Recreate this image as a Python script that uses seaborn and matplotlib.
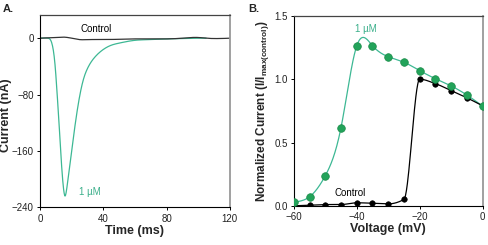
import numpy as np
import pandas as pd
import matplotlib
matplotlib.use("Agg")
import matplotlib.pyplot as plt
import seaborn as sns

# ---------------- data ----------------
# Panel A: current traces
time_drug = [0, 5, 6.5, 8, 9.5, 11, 12, 13, 14, 15, 15.8, 16.8, 18, 20, 22.5, 25,
             27.5, 30, 35, 40, 45, 50, 60, 70, 80, 90, 100, 105]
curr_drug = [0, 0, -2, -12, -38, -85, -120, -158, -192, -216, -224, -215, -195,
             -160, -118, -83, -58, -43, -26, -16, -10, -7, -3, -2, -1, -0.5, 0, 0]
time_ctrl = [0, 5, 10, 15, 20, 25, 30, 40, 50, 60, 70, 80, 90, 100, 105, 110, 120]
curr_ctrl = [0, 0.5, 1, 1.5, 0, -2, -2, -2, -1.5, -1, -1, -1, 0, 1, 0, -0.5, 0]

# Panel B: normalized I-V
voltage = [-60, -55, -50, -45, -40, -35, -30, -25, -20, -15, -10, -5, 0]
norm_drug = [0.029, 0.071, 0.237, 0.617, 1.263, 1.265, 1.178, 1.134, 1.068,
             1.004, 0.947, 0.875, 0.788]
norm_ctrl = [0.0, 0.005, 0.01, 0.01, 0.024, 0.02, 0.015, 0.05, 1.0,
             0.965, 0.91, 0.853, 0.79]

label_ctrl = "Control"
label_drug = "1 \u00b5M"

GREEN_LINE = "#3db894"
GREEN_MARK = "#22a35a"
GREEN_TEXT = "#3aaf8a"


def spline(x, y, n=400):
    """Natural cubic spline used only to render a smooth connecting line."""
    x = np.asarray(x, float); y = np.asarray(y, float)
    k = len(x); h = np.diff(x)
    A = np.zeros((k, k)); r = np.zeros(k)
    A[0, 0] = A[-1, -1] = 1
    for i in range(1, k - 1):
        A[i, i - 1] = h[i - 1]; A[i, i] = 2 * (h[i - 1] + h[i]); A[i, i + 1] = h[i]
        r[i] = 3 * ((y[i + 1] - y[i]) / h[i] - (y[i] - y[i - 1]) / h[i - 1])
    c = np.linalg.solve(A, r)
    b = (y[1:] - y[:-1]) / h - h * (2 * c[:-1] + c[1:]) / 3
    d = (c[1:] - c[:-1]) / (3 * h)
    xs = np.linspace(x[0], x[-1], n)
    idx = np.clip(np.searchsorted(x, xs) - 1, 0, k - 2)
    dx = xs - x[idx]
    ys = y[idx] + b[idx] * dx + c[idx] * dx ** 2 + d[idx] * dx ** 3
    return xs, ys


def pchip(x, y, n=400):
    """Monotone cubic (PCHIP) rendering of a connecting line."""
    x = np.asarray(x, float); y = np.asarray(y, float)
    h = np.diff(x); delta = np.diff(y) / h
    k = len(x); m = np.zeros(k)
    for i in range(1, k - 1):
        if delta[i - 1] * delta[i] > 0:
            w1 = 2 * h[i] + h[i - 1]; w2 = h[i] + 2 * h[i - 1]
            m[i] = (w1 + w2) / (w1 / delta[i - 1] + w2 / delta[i])
    m[0] = delta[0]; m[-1] = delta[-1]
    xs = np.linspace(x[0], x[-1], n)
    idx = np.clip(np.searchsorted(x, xs) - 1, 0, k - 2)
    t = (xs - x[idx]) / h[idx]
    h00 = 2 * t**3 - 3 * t**2 + 1; h10 = t**3 - 2 * t**2 + t
    h01 = -2 * t**3 + 3 * t**2; h11 = t**3 - t**2
    ys = (h00 * y[idx] + h10 * h[idx] * m[idx] + h01 * y[idx + 1]
          + h11 * h[idx] * m[idx + 1])
    return xs, ys


sns.set_theme(style="white")
plt.rcParams['font.family'] = ['Liberation Sans', 'DejaVu Sans']
plt.rcParams['mathtext.fontset'] = 'custom'
plt.rcParams['mathtext.rm'] = 'Liberation Sans'
plt.rcParams['mathtext.bf'] = 'Liberation Sans:bold'
plt.rcParams['mathtext.it'] = 'Liberation Sans:italic'

fig = plt.figure(figsize=(4.88, 2.45), dpi=100)
axA = fig.add_axes([0.082, 0.154, 0.389, 0.785])
axB = fig.add_axes([0.602, 0.160, 0.387, 0.775])


def style_axes(ax):
    for s in ["left", "bottom"]:
        ax.spines[s].set_color("black"); ax.spines[s].set_linewidth(0.8)
    ax.spines["top"].set_color("#444444"); ax.spines["top"].set_linewidth(0.9)
    ax.spines["right"].set_color("#999999"); ax.spines["right"].set_linewidth(1.3)
    ax.tick_params(axis="both", which="major", direction="out", length=2.5,
                   width=0.7, labelsize=7, pad=2, colors="black",
                   bottom=True, left=True)
    for t in ax.get_xticklabels() + ax.get_yticklabels():
        t.set_color("#222222")


# ---------------- Panel A ----------------
xs, ys = spline(time_drug, curr_drug, 600)
sns.lineplot(x=xs, y=ys, ax=axA, color=GREEN_LINE, lw=0.9, sort=False)
xc, yc = spline(time_ctrl, curr_ctrl, 600)
sns.lineplot(x=xc, y=yc, ax=axA, color="#333333", lw=0.9, sort=False)
axA.set_xlim(0, 120)
axA.set_ylim(-240, 33)
axA.set_xticks([0, 40, 80, 120])
axA.set_yticks([0, -80, -160, -240])
axA.set_xlabel("Time (ms)", fontsize=9, fontweight="bold", labelpad=1)
axA.set_ylabel("Current (nA)", fontsize=9, fontweight="bold")
axA.yaxis.set_label_coords(-0.145, 0.48)
axA.text(25.3, 13, label_ctrl, fontsize=7, color="black", va="center")
axA.text(24.8, -219, label_drug, fontsize=7, color=GREEN_TEXT, va="center")
style_axes(axA)
fig.text(0.006, 0.985, "A.", fontsize=8, fontweight="bold", va="top", ha="left")

# ---------------- Panel B ----------------
xg, yg = spline(voltage, norm_drug)
sns.lineplot(x=xg, y=yg, ax=axB, color=GREEN_LINE, lw=0.9, sort=False)
xk, yk = pchip(voltage, norm_ctrl)
sns.lineplot(x=xk, y=yk, ax=axB, color="black", lw=0.9, sort=False)
dfB = pd.DataFrame({"V": voltage, "drug": norm_drug, "ctrl": norm_ctrl})
sns.scatterplot(data=dfB, x="V", y="ctrl", ax=axB, color="black", s=16,
                edgecolor="black", linewidth=0.4, zorder=3)
sns.scatterplot(data=dfB, x="V", y="drug", ax=axB, color=GREEN_MARK, s=30,
                edgecolor="#1a8a48", linewidth=0.5, zorder=4)
axB.set_xlim(-60, 0)
axB.set_ylim(0, 1.5)
axB.set_xticks([-60, -40, -20, 0])
axB.set_yticks([0.0, 0.5, 1.0, 1.5])
axB.set_yticklabels(["0.0", "0.5", "1.0", "1.5"])
axB.set_xlabel("Voltage (mV)", fontsize=9, fontweight="bold", labelpad=1)
axB.set_ylabel(r"Normalized Current (I/I$_{\mathbf{max(control)}}$)",
               fontsize=8.5, fontweight="bold", labelpad=2)
axB.text(-47, 0.105, label_ctrl, fontsize=7, color="black", va="center")
axB.text(-40.5, 1.4, label_drug, fontsize=7, color=GREEN_TEXT, va="center")
style_axes(axB)
fig.text(0.508, 0.985, "B.", fontsize=8, fontweight="bold", va="top", ha="left")

fig.savefig("out.png", dpi=100)
